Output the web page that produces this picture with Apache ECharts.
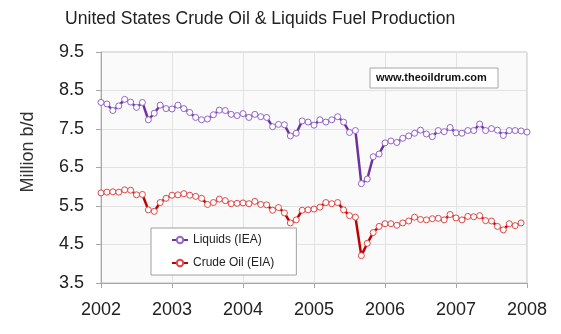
<!DOCTYPE html>
<html>
<head>
<meta charset="utf-8">
<script src="https://cdn.jsdelivr.net/npm/echarts@6/dist/echarts.min.js"></script>
<style>
  html, body { margin: 0; padding: 0; background: #fff; }
  #chart { width: 561px; height: 334px; }
</style>
</head>
<body>
<div id="chart"></div>
<script>
// Monthly US production, million barrels per day, starting January 2002
const START_YEAR = 2002;
const yearTicks = [2002, 2003, 2004, 2005, 2006, 2007, 2008];

// Liquids (IEA): Jan 2002 .. Jan 2008
const liquids = [
  8.19, 8.15, 7.98, 8.10, 8.27, 8.20, 8.06, 8.19, 7.74, 7.91, 8.12, 8.03,
  8.02, 8.12, 8.03, 7.93, 7.80, 7.74, 7.76, 7.87, 7.99, 7.98, 7.88, 7.85,
  7.90, 7.80, 7.88, 7.82, 7.80, 7.56, 7.62, 7.61, 7.32, 7.39, 7.71, 7.68,
  7.60, 7.74, 7.68, 7.74, 7.82, 7.68, 7.41, 7.46, 6.08, 6.20, 6.78, 6.85,
  7.14, 7.19, 7.15, 7.26, 7.32, 7.39, 7.47, 7.37, 7.30, 7.46, 7.43, 7.54,
  7.40, 7.39, 7.46, 7.46, 7.63, 7.46, 7.51, 7.47, 7.33, 7.46, 7.46, 7.45,
  7.42
];

// Crude oil (EIA): Jan 2002 .. Dec 2007
const crude = [
  5.84, 5.86, 5.87, 5.86, 5.92, 5.91, 5.79, 5.80, 5.40, 5.36, 5.59, 5.70,
  5.78, 5.79, 5.82, 5.78, 5.75, 5.70, 5.54, 5.59, 5.68, 5.64, 5.56, 5.57,
  5.58, 5.56, 5.62, 5.54, 5.53, 5.39, 5.46, 5.32, 5.06, 5.14, 5.39, 5.40,
  5.42, 5.47, 5.59, 5.56, 5.59, 5.40, 5.25, 5.21, 4.21, 4.53, 4.81, 4.97,
  5.04, 5.04, 5.00, 5.06, 5.11, 5.21, 5.15, 5.14, 5.17, 5.18, 5.14, 5.28,
  5.19, 5.14, 5.23, 5.22, 5.25, 5.12, 5.11, 4.97, 4.88, 5.04, 4.99, 5.06
];

// month index -> fractional year on the x axis
const toPoints = arr => arr.map((v, i) => [START_YEAR + i / 12, v]);

const FONT = '"Liberation Sans", Arial, sans-serif';
const chart = echarts.init(document.getElementById('chart'), null, { renderer: 'canvas' });

chart.setOption({
  animation: false,
  backgroundColor: '#ffffff',
  textStyle: { fontFamily: FONT },
  title: {
    text: 'United States Crude Oil & Liquids Fuel Production',
    left: 60,
    top: 5,
    textStyle: { fontFamily: FONT, fontSize: 17.6, fontWeight: 'normal', color: '#222' }
  },
  grid: {
    left: 101, right: 34, top: 52, bottom: 51,
    show: true,
    backgroundColor: '#fafafa',
    borderColor: '#c0c0c0',
    borderWidth: 1
  },
  legend: {
    orient: 'vertical',
    left: 151,
    top: 228,
    backgroundColor: '#ffffff',
    borderColor: '#a0a0a0',
    borderWidth: 1,
    padding: [6, 22, 6, 20],
    itemGap: 11,
    itemWidth: 16,
    itemHeight: 8,
    textStyle: { fontFamily: FONT, fontSize: 12, color: '#222' },
    data: ['Liquids (IEA)', 'Crude Oil (EIA)']
  },
  xAxis: {
    type: 'value',
    min: yearTicks[0],
    max: yearTicks[yearTicks.length - 1],
    interval: 1,
    axisLine: { lineStyle: { color: '#a8a8a8' } },
    axisTick: { show: true, length: 5, lineStyle: { color: '#a8a8a8' } },
    axisLabel: { margin: 18, fontSize: 18, color: '#222', fontFamily: FONT, formatter: v => String(v) },
    splitLine: { show: true, lineStyle: { color: '#e2e2e2' } }
  },
  yAxis: {
    type: 'value',
    min: 3.5,
    max: 9.5,
    interval: 1,
    axisLine: { show: true, lineStyle: { color: '#a8a8a8' } },
    axisTick: { show: true, length: 5, lineStyle: { color: '#a8a8a8' } },
    axisLabel: { margin: 17, fontSize: 18, color: '#222', fontFamily: FONT, formatter: v => v.toFixed(1) },
    splitLine: { show: true, lineStyle: { color: '#e2e2e2' } }
  },
  graphic: [
    {
      // vertical axis title
      type: 'text',
      x: 28,
      y: 152,
      rotation: Math.PI / 2,
      style: {
        text: 'Million b/d',
        fontFamily: FONT,
        fontSize: 18,
        fill: '#333',
        align: 'center',
        verticalAlign: 'middle'
      }
    },
    {
      type: 'rect',
      shape: { x: 370, y: 68, width: 128, height: 20 },
      style: { fill: '#ffffff', stroke: '#a8a8a8', lineWidth: 1 },
      z: 10
    },
    {
      type: 'text',
      x: 376,
      y: 78,
      style: {
        text: 'www.theoildrum.com',
        fontFamily: FONT,
        fontSize: 11,
        fontWeight: 'bold',
        fill: '#111',
        verticalAlign: 'middle'
      },
      z: 11
    }
  ],
  series: [
    {
      name: 'Liquids (IEA)',
      type: 'line',
      data: toPoints(liquids),
      symbol: 'circle',
      symbolSize: 6,
      lineStyle: { color: '#7030a0', width: 2.5 },
      itemStyle: { color: '#ffffff', borderColor: '#9466c8', borderWidth: 1 }
    },
    {
      name: 'Crude Oil (EIA)',
      type: 'line',
      data: toPoints(crude),
      symbol: 'circle',
      symbolSize: 6,
      lineStyle: { color: '#c00000', width: 2.5 },
      itemStyle: { color: '#ffffff', borderColor: '#e04848', borderWidth: 1 }
    }
  ]
});
</script>
</body>
</html>
